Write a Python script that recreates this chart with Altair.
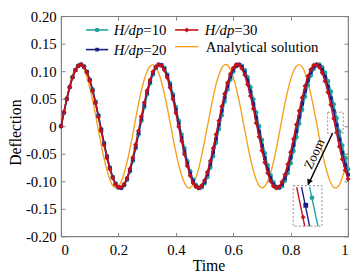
import altair as alt
import pandas as pd

FONT = "Liberation Serif"
W, H = 292, 224

# ---------------- data ----------------
dt = 0.01
h30 = [0, .026, .050, .071, .089, .102, .110, .112, .108, .098, .083, .064, .042, .017, -.009, -.034, -.058, -.078, -.094, -.106,
       -.111, -.111, -.105, -.094, -.077, -.057, -.033, -.008, .018, .043, .065, .084, .099, .108, .112, .110, .102, .088, .070, .049,
       .024, -.001, -.027, -.051, -.072, -.090, -.103, -.110, -.112, -.108, -.098, -.083, -.063, -.040, -.015, .010, .036, .059, .079, .095,
       .106, .112, .111, .105, .093, .076, .055, .032, .006, -.019, -.044, -.066, -.085, -.100, -.109, -.112, -.110, -.101, -.088, -.069,
       -.047, -.023, .003, .028, .052, .073, .091, .103, .111, .112, .107, .097, .082, .062, .039, .014, -.012, -.037, -.060, -.080, -.096]
h20 = [0, .025, .050, .071, .089, .102, .110, .112, .108, .099, .084, .065, .043, .019, -.007, -.032, -.056, -.076, -.093, -.105,
       -.111, -.112, -.106, -.095, -.080, -.060, -.037, -.012, .014, .039, .062, .081, .097, .107, .112, .111, .104, .092, .074, .054,
       .030, .005, -.021, -.046, -.068, -.086, -.100, -.109, -.112, -.109, -.101, -.087, -.069, -.047, -.023, .003, .028, .052, .073, .090,
       .103, .110, .112, .108, .098, .083, .063, .041, .016, -.010, -.035, -.058, -.078, -.094, -.106, -.111, -.111, -.105, -.094, -.078,
       -.057, -.034, -.009, .017, .041, .064, .083, .098, .108, .112, .110, .103, .090, .072, .051, .027, .002, -.024, -.048, -.070, -.088]
h10 = [0, .025, .049, .071, .089, .102, .110, .112, .109, .099, .085, .067, .045, .020, -.005, -.030, -.054, -.075, -.092, -.104,
       -.111, -.112, -.107, -.097, -.082, -.063, -.040, -.015, .010, .035, .058, .078, .094, .106, .111, .111, .106, .094, .078, .058,
       .035, .010, -.015, -.040, -.063, -.082, -.097, -.107, -.112, -.111, -.104, -.092, -.075, -.054, -.030, -.005, .020, .045, .067, .085,
       .099, .109, .112, .110, .102, .089, .071, .049, .025, .000, -.025, -.049, -.071, -.089, -.102, -.110, -.112, -.109, -.099, -.085,
       -.067, -.045, -.020, .005, .030, .054, .075, .092, .104, .111, .112, .107, .097, .082, .063, .040, .015, -.010, -.035, -.058, -.078]
analytical = [0, .027, .053, .076, .093, .106, .112, .111, .103, .089, .070, .047, .021, -.007, -.034, -.059, -.080, -.097, -.108, -.112,
              -.109, -.100, -.085, -.065, -.041, -.014, .014, .041, .065, .085, .100, .109, .112, .108, .097, .080, .059, .034, .007, -.021,
              -.047, -.070, -.089, -.103, -.111, -.112, -.106, -.093, -.076, -.053, -.027,
              0, .027, .053, .076, .093, .106, .112, .111, .103, .089, .070, .047, .021, -.007, -.034, -.059, -.080, -.097, -.108, -.112,
              -.109, -.100, -.085, -.065, -.041, -.014, .014, .041, .065, .085, .100, .109, .112, .108, .097, .080, .059, .034, .007, -.021,
              -.047, -.070, -.089, -.103, -.111, -.112, -.106, -.093, -.076, -.053]

x_ticks = [0, 0.2, 0.4, 0.6, 0.8, 1]
y_ticks = [-0.2, -0.15, -0.1, -0.05, 0, 0.05, 0.1, 0.15, 0.2]

# zoom annotation (in data units)
small_box = {"t1": [0.929], "t2": [0.983], "d1": [0.0255], "d2": [-0.0127]}
big_box = {"t1": [0.809], "t2": [0.909], "d1": [-0.108], "d2": [-0.1815]}
inset_lines = {"t1": [0.821, 0.838, 0.866], "d1": [-0.1104, -0.1104, -0.1104],
               "t2": [0.849, 0.866, 0.895], "d2": [-0.1814, -0.1814, -0.1814]}
inset_marks = {"t": [0.8435, 0.8527, 0.8743], "d": [-0.1653, -0.1436, -0.130]}
arrow = {"t1": [0.946], "d1": [-0.0127], "t2": [0.861], "d2": [-0.1063]}
arrow_head = {"t": [0.8637], "d": [-0.1016]}
zoom_label = {"t": [0.8836], "d": [-0.0506], "label": ["Zoom"]}

C10, C20, C30, CAN = "#1fa3a0", "#1b1b8a", "#c0121c", "#f4a21e"
GRAY = "#7f7f7f"

# ---------------- helpers ----------------
xs = alt.Scale(domain=[0, 1], nice=False, zero=False)
ys = alt.Scale(domain=[-0.2, 0.2], nice=False, zero=False)


def sdf(vals):
    return pd.DataFrame({"t": [round(i * dt, 2) for i in range(len(vals))], "d": vals})


def X(field="t", **kw):
    return alt.X(f"{field}:Q", scale=xs, axis=None, **kw)


def Y(field="d", **kw):
    return alt.Y(f"{field}:Q", scale=ys, axis=None, **kw)


one = pd.DataFrame({"a": [0]})

# ---------------- main layers ----------------
x_axis = alt.Axis(values=x_ticks, orient="bottom", offset=-4, tickSize=4, tickColor=GRAY, tickWidth=1,
                  domain=False, grid=False, labelPadding=7, labelFontSize=15, labelFont=FONT, labelColor="black",
                  labelExpr="datum.value == 0 ? '0' : (datum.value == 1 ? '1' : format(datum.value, '.1f'))",
                  title="Time", titleFont=FONT, titleFontSize=16, titleFontWeight="normal", titleColor="black",
                  titlePadding=0, titleX=150)
y_axis = alt.Axis(values=y_ticks, orient="left", offset=-4, tickSize=4, tickColor=GRAY, tickWidth=1,
                  domain=False, grid=False, labelPadding=5, labelFontSize=15, labelFont=FONT, labelColor="black",
                  labelExpr="abs(datum.value) < 1e-9 ? '0' : (datum.value < 0 ? '-' : '') + format(abs(datum.value), '.2f')",
                  title="Deflection", titleFont=FONT, titleFontSize=16, titleFontWeight="normal", titleColor="black",
                  titleX=-45, titleY=118, titleBaseline="alphabetic")

ana = alt.Chart(sdf(analytical)).mark_line(color=CAN, strokeWidth=1.4, interpolate="catmull-rom").encode(
    x=alt.X("t:Q", scale=xs, axis=x_axis), y=alt.Y("d:Q", scale=ys, axis=y_axis))

mirror = alt.Chart(sdf(h30)).mark_point(opacity=0).encode(
    x=alt.X("t:Q", scale=xs, axis=alt.Axis(values=x_ticks, orient="top", offset=-4, tickSize=4, tickColor=GRAY,
                                           labels=False, domain=False, grid=False, title="")),
    y=alt.Y("d:Q", scale=ys, axis=alt.Axis(values=y_ticks, orient="right", offset=-4, tickSize=4, tickColor=GRAY,
                                           labels=False, domain=False, grid=False, title="")))


def series(vals, color, shape, size):
    base = alt.Chart(sdf(vals))
    ln = base.mark_line(color=color, strokeWidth=1.6).encode(x=X(), y=Y())
    pt = base.mark_point(color=color, filled=True, shape=shape, size=size, opacity=1).encode(x=X(), y=Y())
    return [ln, pt]


layers = [ana]
layers += series(h10, C10, "circle", 22)
layers += series(h20, C20, "square", 14)
layers += series(h30, C30, "diamond", 26)
layers.append(mirror)

# ---------------- zoom annotation ----------------
for box in (small_box, big_box):
    layers.append(alt.Chart(pd.DataFrame(box)).mark_rect(fillOpacity=0, stroke="#8a8a8a", strokeWidth=1,
                                                         strokeDash=[2, 2]).encode(
        x=X("t1"), x2="t2:Q", y=Y("d1"), y2="d2:Q"))

il = pd.DataFrame(inset_lines)
il["c"] = ["30", "20", "10"]
cs = alt.Scale(domain=["10", "20", "30"], range=[C10, C20, C30])
layers.append(alt.Chart(il).mark_rule(strokeWidth=1.4).encode(
    x=X("t1"), x2="t2:Q", y=Y("d1"), y2="d2:Q", color=alt.Color("c:N", scale=cs, legend=None)))
im = pd.DataFrame(inset_marks)
im["c"] = ["30", "20", "10"]
im["s"] = ["diamond", "square", "circle"]
layers.append(alt.Chart(im).mark_point(filled=True, opacity=1, size=24).encode(
    x=X(), y=Y(), color=alt.Color("c:N", scale=cs, legend=None),
    shape=alt.Shape("s:N", scale=None)))

layers.append(alt.Chart(pd.DataFrame(arrow)).mark_rule(color="black", strokeWidth=1.5).encode(
    x=X("t1"), x2="t2:Q", y=Y("d1"), y2="d2:Q"))
layers.append(alt.Chart(pd.DataFrame(arrow_head)).mark_point(shape="triangle-up", filled=True, color="black",
                                                             size=40, angle=205, opacity=1).encode(x=X(), y=Y()))
layers.append(alt.Chart(pd.DataFrame(zoom_label)).mark_text(font=FONT, fontSize=13.5, angle=295, align="center",
                                                            baseline="middle", color="black").encode(
    x=X(), y=Y(), text="label:N"))

# ---------------- manual legend ----------------
legend_items = [
    ("10", C10, "circle", 22, 25.3, 48.0, 14.0, 53.7),
    ("30", C30, "diamond", 26, 116.0, 139.7, 14.0, 146.3),
    ("20", C20, "square", 14, 25.3, 48.0, 34.0, 53.7),
]
for num, col, shp, sz, xa, xb, yy, xt in legend_items:
    layers.append(alt.Chart(one).mark_rule(color=col, strokeWidth=1.6).encode(
        x=alt.value(xa), x2=alt.value(xb), y=alt.value(yy)))
    layers.append(alt.Chart(one).mark_point(color=col, filled=True, shape=shp, size=sz, opacity=1).encode(
        x=alt.value((xa + xb) / 2), y=alt.value(yy)))
    layers.append(alt.Chart(one).mark_text(font=FONT, fontSize=15, fontStyle="italic", align="left",
                                           baseline="middle", color="black").encode(
        x=alt.value(xt), y=alt.value(yy), text=alt.value("H/dp")))
    layers.append(alt.Chart(one).mark_text(font=FONT, fontSize=15, align="left", baseline="middle",
                                           color="black").encode(
        x=alt.value(xt + 30), y=alt.value(yy), text=alt.value("=" + num)))

layers.append(alt.Chart(one).mark_rule(color=CAN, strokeWidth=1.4).encode(
    x=alt.value(116.0), x2=alt.value(139.7), y=alt.value(31.0)))
layers.append(alt.Chart(one).mark_text(font=FONT, fontSize=15, align="left", baseline="middle",
                                       color="black").encode(
    x=alt.value(147.3), y=alt.value(31.0), text=alt.value("Analytical solution")))

chart = alt.layer(*layers).resolve_axis(x="independent", y="independent").properties(
    width=W, height=H,
    padding={"left": 54, "top": 6, "right": 3, "bottom": 36},
    autosize=alt.AutoSizeParams(type="none"),
).configure_view(stroke=GRAY, strokeWidth=1.2)

chart.save("out.html", embed_options={"renderer": "svg", "actions": False})
